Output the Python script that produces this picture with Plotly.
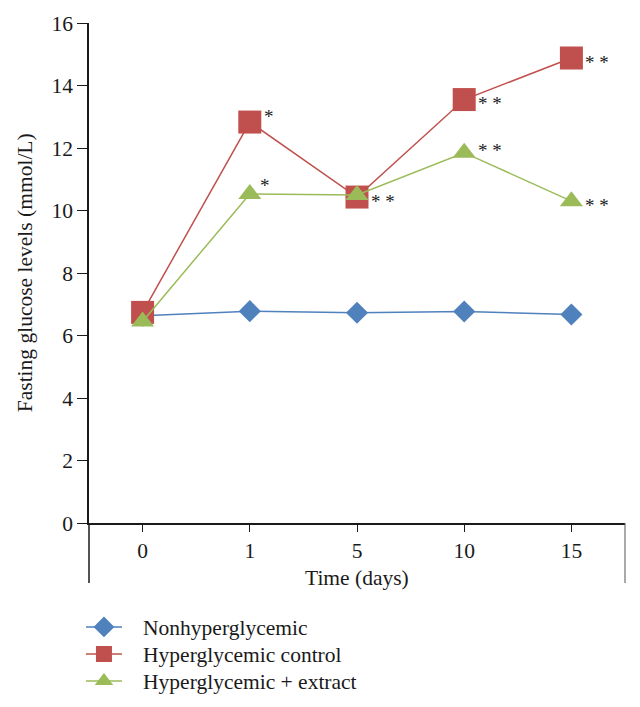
import plotly.graph_objects as go

days = ["0", "1", "5", "10", "15"]
nonhyper = [6.63, 6.78, 6.73, 6.77, 6.67]
hyper_control = [6.74, 12.83, 10.43, 13.55, 14.88]
hyper_extract = [6.45, 10.53, 10.50, 11.85, 10.30]

control_marks = ["", "*", "* *", "* *", "* *"]
extract_marks = ["", "*", "", "* *", "* *"]

FONT = "Liberation Serif"
FS = 21.5
BLUE = "#4F81BD"
RED = "#C0504D"
GREEN = "#9BBB59"
INK = "#1a1a1a"
GAP = "\u00a0\u00a0\u00a0"

fig = go.Figure()
fig.add_trace(go.Scatter(x=days, y=nonhyper, mode="lines+markers", name=GAP + "Nonhyperglycemic",
                         line=dict(color=BLUE, width=1.5), legend="legend",
                         marker=dict(symbol="diamond", size=17, color=BLUE)))
fig.add_trace(go.Scatter(x=days, y=hyper_control, mode="lines+markers", name=GAP + "Hyperglycemic control",
                         line=dict(color=RED, width=1.5), legend="legend2",
                         marker=dict(symbol="square", size=23, color=RED)))
fig.add_trace(go.Scatter(x=days, y=hyper_extract, mode="lines+markers", name=GAP + "Hyperglycemic + extract",
                         line=dict(color=GREEN, width=1.5), legend="legend3",
                         marker=dict(symbol="triangle-up", size=20, color=GREEN)))

annos = []
for i, (v, m) in enumerate(zip(hyper_control, control_marks)):
    if m:
        annos.append(dict(x=i, y=v, xref="x", yref="y", text=m, showarrow=False,
                          xanchor="left", yanchor="middle",
                          xshift=12, yshift=6 if m == "*" else -4,
                          font=dict(family=FONT, size=19, color=INK)))
for i, (v, m) in enumerate(zip(hyper_extract, extract_marks)):
    if m:
        annos.append(dict(x=i, y=v, xref="x", yref="y", text=m, showarrow=False,
                          xanchor="left", yanchor="middle",
                          xshift=8 if m == "*" else 12,
                          yshift=8 if m == "*" else (2 if i == 3 else -4),
                          font=dict(family=FONT, size=19, color=INK)))

annos.append(dict(text="Time (days)", xref="paper", yref="paper", x=0.5, y=-0.11,
                  xanchor="center", yanchor="middle", showarrow=False,
                  font=dict(family=FONT, size=FS, color=INK)))
annos.append(dict(text="Fasting glucose levels (mmol/L)", xref="paper", yref="paper",
                  x=-0.119, y=0.5, xanchor="center", yanchor="middle", textangle=-90,
                  showarrow=False, font=dict(family=FONT, size=FS, color=INK)))

def leg(y):
    return dict(x=-0.015, y=y, xanchor="left", yanchor="middle",
                font=dict(family=FONT, size=FS, color=INK),
                itemwidth=36, bgcolor="rgba(0,0,0,0)")

fig.update_layout(
    width=624, height=691,
    margin=dict(l=81, r=7, t=15, b=176, autoexpand=False),
    plot_bgcolor="white", paper_bgcolor="white",
    font=dict(family=FONT, size=FS, color=INK),
    showlegend=True,
    legend=leg(-0.208), legend2=leg(-0.262), legend3=leg(-0.316),
    annotations=annos,
    shapes=[
        dict(type="line", xref="paper", yref="paper", x0=0, x1=0, y0=0, y1=-0.12,
             line=dict(color=INK, width=1.5)),
        dict(type="line", xref="paper", yref="paper", x0=1, x1=1, y0=0, y1=-0.12,
             line=dict(color="#555", width=1)),
    ],
)
fig.update_xaxes(type="category", range=[-0.5, 4.5], showline=True, linecolor=INK, linewidth=1.5,
                 ticks="outside", ticklen=7, tickcolor=INK, showgrid=False, zeroline=False,
                 tickfont=dict(family=FONT, size=FS), automargin=False)
fig.update_yaxes(range=[0, 16], dtick=2, showline=True, linecolor=INK, linewidth=1.5,
                 ticks="outside", ticklen=10, tickcolor=INK, showgrid=False, zeroline=False,
                 tickfont=dict(family=FONT, size=FS), automargin=False)

fig.write_html("out.html")
